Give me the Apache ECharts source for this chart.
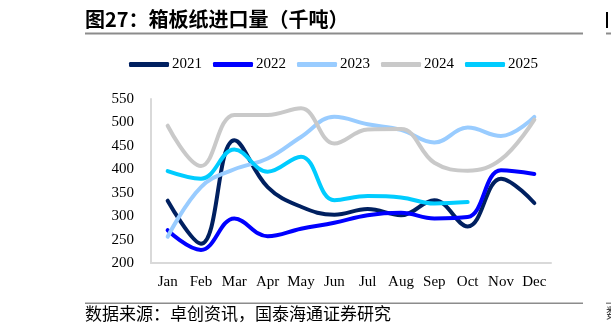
<!DOCTYPE html>
<html>
<head>
<meta charset="utf-8">
<script src="https://cdn.jsdelivr.net/npm/echarts@6/dist/echarts.min.js"></script>
<style>
  html, body { margin: 0; padding: 0; background: #fff; }
  #chart { width: 611px; height: 336px; }
</style>
</head>
<body>
<div id="chart"></div>
<script>
"use strict";

const months = ["Jan", "Feb", "Mar", "Apr", "May", "Jun", "Jul", "Aug", "Sep", "Oct", "Nov", "Dec"];
const years = ["2021", "2022", "2023", "2024", "2025"];
const v2021 = [333, 241, 462, 362, 320, 303, 315, 302, 334, 278, 380, 328];
const v2022 = [270, 228, 295, 257, 273, 286, 302, 307, 295, 298, 398, 390];
const v2023 = [256, 362, 400, 423, 469, 512, 496, 484, 457, 489, 471, 512];
const v2024 = [493, 407, 516, 516, 530, 455, 485, 486, 414, 397, 421, 506];
const v2025 = [396, 380, 442, 395, 427, 334, 343, 340, 327, 330];
const yTicks = { min: 200, max: 550, step: 50 };

const colors = { y2021: "#002060", y2022: "#0000ff", y2023: "#99ccff", y2024: "#c9c9c9", y2025: "#00ccff", axis: "#d9d9d9", text: "#000", rule: "#8c8c8c" };
const palette = [colors.y2021, colors.y2022, colors.y2023, colors.y2024, colors.y2025];
const values = [v2021, v2022, v2023, v2024, v2025];
const serif = "'Liberation Serif', 'Times New Roman', serif";
const cjk = "'Noto Sans CJK SC', sans-serif";

const chart = echarts.init(document.getElementById("chart"), null, { renderer: "canvas" });

chart.setOption({
  animation: false,
  backgroundColor: "#fff",
  textStyle: { fontFamily: serif },
  grid: { left: 151, right: 60, top: 99, bottom: 73 },
  legend: {
    top: 52, left: 124, itemWidth: 40, itemHeight: 5, itemGap: 11, icon: "roundRect",
    textStyle: { fontFamily: serif, fontSize: 15, color: colors.text, padding: [0, 0, 0, -2] },
    data: years,
  },
  xAxis: {
    type: "category", data: months, boundaryGap: true,
    axisLine: { lineStyle: { color: colors.axis, width: 2 } }, axisTick: { show: false },
    axisLabel: { fontFamily: serif, fontSize: 15, color: colors.text, margin: 12, interval: 0 },
  },
  yAxis: {
    type: "value", min: yTicks.min, max: yTicks.max, interval: yTicks.step,
    axisLine: { show: true, lineStyle: { color: colors.axis, width: 2 } }, axisTick: { show: false },
    splitLine: { show: false },
    axisLabel: { fontFamily: serif, fontSize: 15, color: colors.text, margin: 17 },
  },
  series: years.map((year, index) => ({
    name: year, type: "line", data: values[index], smooth: 0.4, showSymbol: false, symbol: "none",
    lineStyle: { color: palette[index], width: 4, cap: "round" }, itemStyle: { color: palette[index] },
  })),
  graphic: [
    { type: "text", left: 85, top: 9, style: { text: "图27：箱板纸进口量（千吨）", font: "bold 20px " + cjk, fill: "#000" } },
    { type: "rect", shape: { x: 85, y: 32.5, width: 498, height: 2 }, style: { fill: colors.rule } },
    { type: "rect", shape: { x: 606, y: 32.5, width: 5, height: 2 }, style: { fill: colors.rule } },
    { type: "rect", shape: { x: 606, y: 12, width: 2, height: 16 }, style: { fill: "#000" } },
    { type: "rect", shape: { x: 85, y: 302.5, width: 498, height: 1.5 }, style: { fill: colors.rule } },
    { type: "rect", shape: { x: 606, y: 302.5, width: 5, height: 1.5 }, style: { fill: colors.rule } },
    { type: "text", left: 85, top: 305, style: { text: "数据来源：卓创资讯，国泰海通证券研究", font: "17px " + cjk, fill: "#000" } },
    { type: "text", left: 606, top: 306, style: { text: "数", font: "14px " + cjk, fill: "#444" } },
  ],
});
</script>
</body>
</html>
